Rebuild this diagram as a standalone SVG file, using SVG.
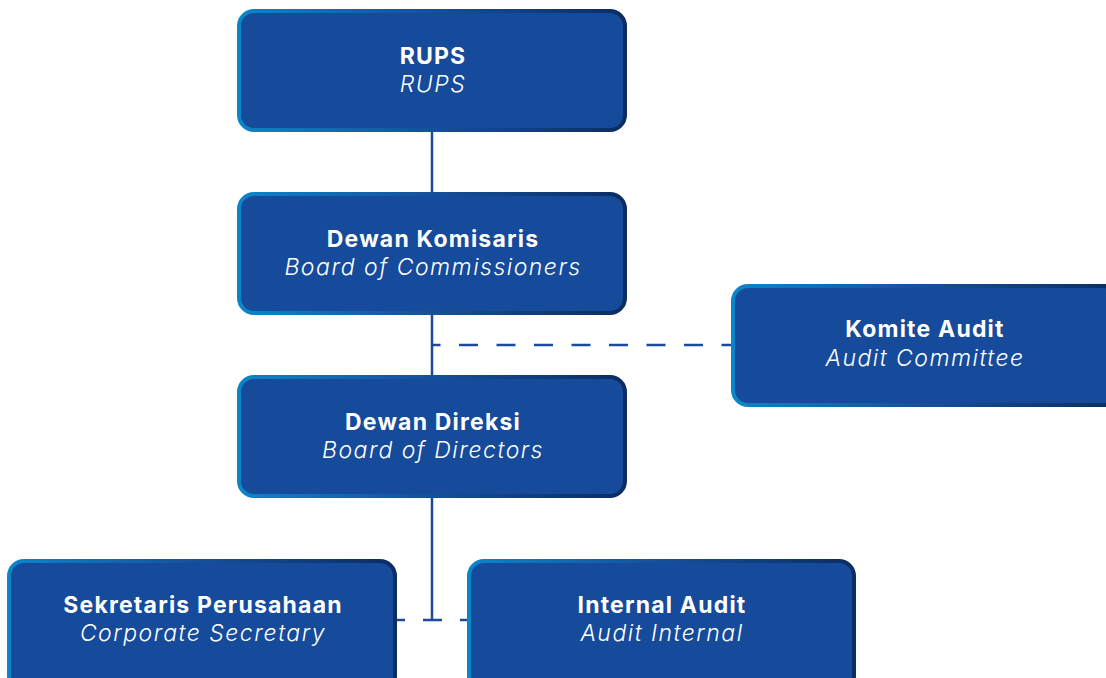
<svg xmlns="http://www.w3.org/2000/svg" width="1106" height="678" viewBox="0 0 1106 678">
  <defs>
    <linearGradient id="edge" x1="0" y1="0" x2="1" y2="0">
      <stop offset="0" stop-color="#0a86c8"/>
      <stop offset="0.45" stop-color="#15549f"/>
      <stop offset="1" stop-color="#0c2c63"/>
    </linearGradient>
    <style>
      .box { fill: #164a9a; stroke: url(#edge); stroke-width: 4; }
      .t1 { font-family: Inter, "Liberation Sans", sans-serif; font-weight: 700; font-size: 23px; letter-spacing: 1.2px; fill: #ffffff; text-anchor: middle; }
      .t2 { font-family: Inter, "Liberation Sans", sans-serif; font-style: italic; font-weight: 300; font-size: 23px; letter-spacing: 1.5px; fill: #ffffff; text-anchor: middle; }
      .line { stroke: #1b4a9a; stroke-width: 2.5; fill: none; }
      .dash { stroke: #1b4a9a; stroke-width: 2.5; fill: none; }
    </style>
  </defs>
  <rect width="1106" height="678" fill="#ffffff"/>

  <g id="connectors">
    <line class="line" x1="432" y1="131" x2="432" y2="193"/>
    <line class="line" x1="432" y1="314" x2="432" y2="376"/>
    <line class="line" x1="432" y1="497" x2="432" y2="620"/>
    <line class="dash" x1="432" y1="345" x2="731" y2="345" stroke-dasharray="19 18.5" stroke-dashoffset="10.5"/>
    <line class="dash" x1="396" y1="620" x2="468" y2="620" stroke-dasharray="19 18" stroke-dashoffset="10"/>
  </g>

  <g id="rups">
    <rect class="box" x="239" y="11" width="386" height="119" rx="15"/>
    <text class="t1" x="433" y="64">RUPS</text>
    <text class="t2" x="433" y="92">RUPS</text>
  </g>

  <g id="dewan-komisaris">
    <rect class="box" x="239" y="194" width="386" height="119" rx="15"/>
    <text class="t1" x="433" y="247">Dewan Komisaris</text>
    <text class="t2" x="433" y="275">Board of Commissioners</text>
  </g>

  <g id="komite-audit">
    <rect class="box" x="733" y="286" width="386" height="119" rx="15"/>
    <text class="t1" x="925" y="337">Komite Audit</text>
    <text class="t2" x="925" y="366">Audit Committee</text>
  </g>

  <g id="dewan-direksi">
    <rect class="box" x="239" y="377" width="386" height="119" rx="15"/>
    <text class="t1" x="433" y="430">Dewan Direksi</text>
    <text class="t2" x="433" y="458">Board of Directors</text>
  </g>

  <g id="sekretaris-perusahaan">
    <rect class="box" x="9" y="561" width="386" height="130" rx="15"/>
    <text class="t1" x="203" y="613">Sekretaris Perusahaan</text>
    <text class="t2" x="203" y="641">Corporate Secretary</text>
  </g>

  <g id="internal-audit">
    <rect class="box" x="469" y="561" width="385" height="130" rx="15"/>
    <text class="t1" x="662" y="613">Internal Audit</text>
    <text class="t2" x="662" y="641">Audit Internal</text>
  </g>
</svg>
